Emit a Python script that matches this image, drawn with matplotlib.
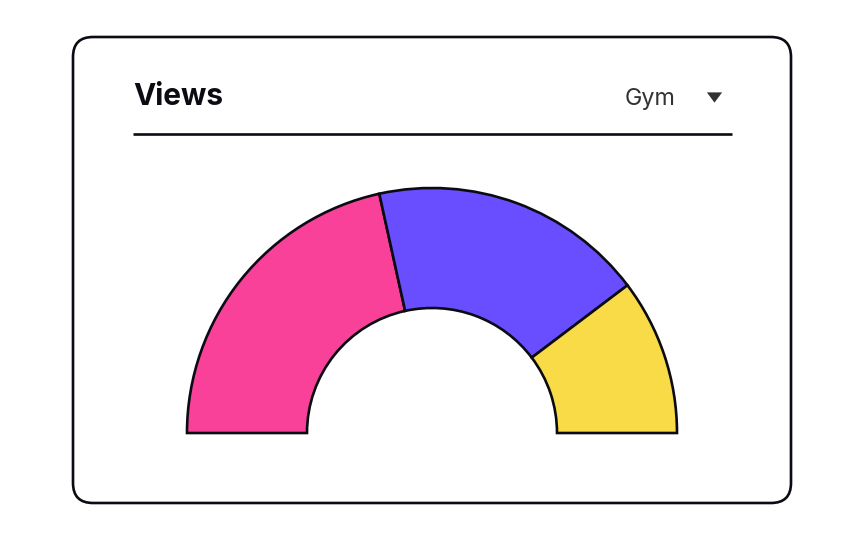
import matplotlib
matplotlib.use("Agg")
import matplotlib.pyplot as plt
from matplotlib.patches import FancyBboxPatch

# Data
categories = ["Segment A", "Segment B", "Segment C"]
values = [431, 363, 206]
colors = ["#F9419A", "#684EFF", "#F9DB48"]
title = "Views"
dropdown_label = "Gym"

W, H = 864, 540
fig = plt.figure(figsize=(W / 100, H / 100), dpi=100)
ax = fig.add_axes([0, 0, 1, 1])

def py(y):
    return H - y

edge = "#0B0B14"

# half donut: add hidden slice equal to total for the bottom half
total = sum(values)
wedges, _ = ax.pie(values + [total], colors=colors + ["white"], startangle=180,
                   counterclock=False, radius=245, center=(432, py(433)),
                   wedgeprops=dict(width=120, edgecolor=edge, linewidth=1.9))
wedges[-1].set_visible(False)
for w in wedges:
    w.set_zorder(3)

ax.set_xlim(0, W)
ax.set_ylim(0, H)
ax.set_aspect("auto")
ax.axis("off")

# card
card = FancyBboxPatch((73, py(503)), 791 - 73, 503 - 37,
                      boxstyle="round,pad=0,rounding_size=20",
                      facecolor="white", edgecolor=edge, linewidth=1.9, zorder=1)
ax.add_patch(card)

# title + separator
ax.text(133, py(105), title, fontsize=21.5, fontweight="bold", family=["Inter", "DejaVu Sans"],
        color="#0B0B14", ha="left", va="baseline", zorder=4)
ax.plot([133, 732], [py(134), py(134)], color=edge, linewidth=1.9, solid_capstyle="butt", zorder=4)

# dropdown
ax.text(625, py(105), dropdown_label, fontsize=16.8, family=["Inter", "DejaVu Sans"],
        color="#333333", ha="left", va="baseline", zorder=4)
ax.plot([714], [py(97)], marker=[(-1, 0.67), (1, 0.67), (0, -0.67)], markersize=11,
        color="#333333", markeredgewidth=0, zorder=4)

fig.savefig("out.png", dpi=100, facecolor="white")
